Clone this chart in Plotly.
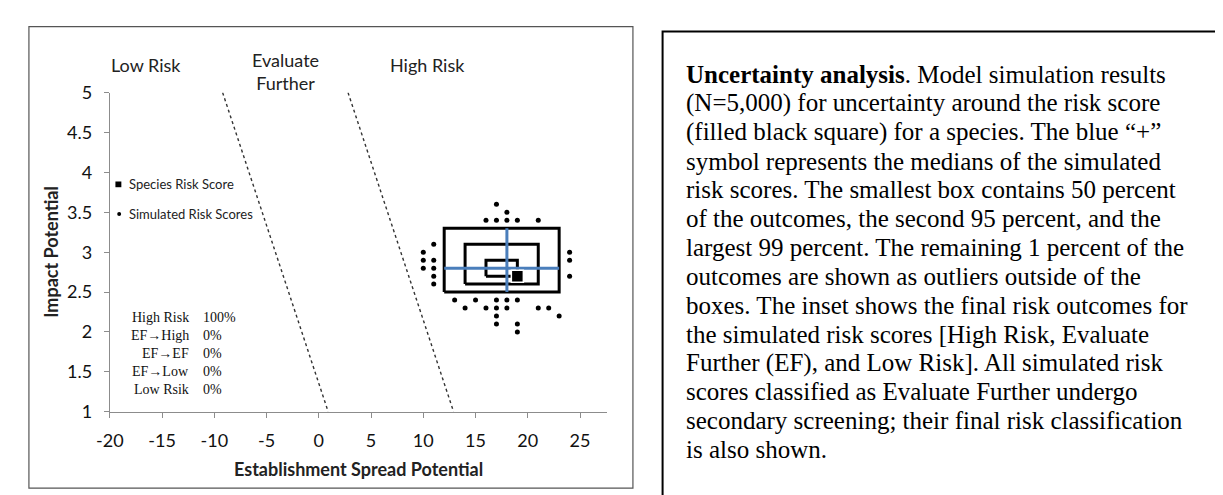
import plotly.graph_objects as go

W, H = 1223, 495

# ---------------- data ----------------
x_ticks = [-20, -15, -10, -5, 0, 5, 10, 15, 20, 25]
y_ticks = [1, 1.5, 2, 2.5, 3, 3.5, 4, 4.5, 5]

outlier_x = [17, 18, 16, 17, 18, 19, 21,
             11, 10, 10, 11, 10, 11, 11, 11,
             24, 24, 24,
             13, 15, 17, 18, 19,
             14, 16, 17, 18, 21, 22,
             17, 23,
             17, 19,
             19]
outlier_y = [3.6, 3.5, 3.4, 3.4, 3.4, 3.4, 3.4,
             3.1, 3.0, 2.9, 2.9, 2.8, 2.8, 2.7, 2.6,
             3.0, 2.9, 2.7,
             2.4, 2.4, 2.4, 2.4, 2.4,
             2.3, 2.3, 2.3, 2.3, 2.3, 2.3,
             2.2, 2.2,
             2.1, 2.1,
             2.0]

# boxes: 50%, 95%, 99%
box_x_lo = [16, 14, 12]
box_x_hi = [19, 21, 23]
box_y_lo = [2.7, 2.6, 2.5]
box_y_hi = [2.9, 3.1, 3.3]

median_x = 18
median_y = 2.8

score_x = 19
score_y = 2.7

# dashed classification thresholds (x at top y=5, x at bottom y=1)
thr_top_x = [-9.2, 2.8]
thr_bot_x = [0.9, 12.9]
thr_y = [5, 1]

region_labels = ["Low Risk", "Evaluate<br>Further", "High Risk"]

inset_labels = ["High Risk", "EF\u2192High", "EF\u2192EF", "EF\u2192Low", "Low Rsik"]
inset_values = ["100%", "0%", "0%", "0%", "0%"]

legend_labels = ["Species Risk Score", "Simulated Risk Scores"]

caption_lines = [
    "<b>Uncertainty analysis</b>. Model simulation results",
    "(N=5,000) for uncertainty around the risk score",
    "(filled black square) for a species. The blue \u201c+\u201d",
    "symbol represents the medians of the simulated",
    "risk scores. The smallest box contains 50 percent",
    "of the outcomes, the second 95 percent, and the",
    "largest 99 percent. The remaining 1 percent of the",
    "outcomes are shown as outliers outside of the",
    "boxes. The inset shows the final risk outcomes for",
    "the simulated risk scores [High Risk, Evaluate",
    "Further (EF), and Low Risk]. All simulated risk",
    "scores classified as Evaluate Further undergo",
    "secondary screening; their final risk classification",
    "is also shown.",
]

# ---------------- helpers (pixel -> paper) ----------------
def px(x):
    return x / W

def py(y):
    return 1 - y / H

PLOT_L, PLOT_R, PLOT_T, PLOT_B = 88.8, 592, 76, 410
CHART_FONT = "Lato, 'Open Sans', sans-serif"
SERIF = "'Liberation Serif', 'Times New Roman', serif"

fig = go.Figure()

# threshold dashed lines
for xt, xb in zip(thr_top_x, thr_bot_x):
    fig.add_trace(go.Scatter(x=[xt, xb], y=thr_y, mode="lines",
                             line=dict(color="#333333", width=1.4, dash="3px,3px"),
                             hoverinfo="skip", showlegend=False))

# outliers
fig.add_trace(go.Scatter(x=outlier_x, y=outlier_y, mode="markers",
                         marker=dict(color="black", size=5),
                         name="Simulated Risk Scores", showlegend=False))

# boxes
for xl, xh, yl, yh in zip(box_x_lo, box_x_hi, box_y_lo, box_y_hi):
    fig.add_trace(go.Scatter(x=[xl, xh, xh, xl, xl], y=[yl, yl, yh, yh, yl],
                             mode="lines", line=dict(color="black", width=3),
                             hoverinfo="skip", showlegend=False))

# median cross spanning the 99% range
fig.add_trace(go.Scatter(
    x=[box_x_lo[2], box_x_hi[2], None, median_x, median_x],
    y=[median_y, median_y, None, box_y_lo[2], box_y_hi[2]],
    mode="lines", line=dict(color="#4a7ebb", width=3),
    hoverinfo="skip", showlegend=False))

# species risk score
fig.add_trace(go.Scatter(x=[score_x], y=[score_y], mode="markers",
                         marker=dict(symbol="square", color="black", size=12,
                                     line=dict(color="white", width=1.5)),
                         name="Species Risk Score", showlegend=False))

annotations = []
shapes = []

# panel borders
shapes.append(dict(type="rect", xref="paper", yref="paper",
                   x0=px(7), x1=px(618), y0=py(490), y1=py(7),
                   line=dict(color="#555555", width=1.2)))
shapes.append(dict(type="rect", xref="paper", yref="paper",
                   x0=px(648), x1=px(1235), y0=py(505), y1=py(12),
                   line=dict(color="black", width=2)))

# region labels
for lab, cx, cy in zip(region_labels, [125, 267, 410], [47, 53.5, 47]):
    annotations.append(dict(text=lab, x=px(cx), y=py(cy), xref="paper", yref="paper",
                            showarrow=False, xanchor="center", yanchor="middle",
                            font=dict(family=CHART_FONT, size=18, color="#222222")))

# legend (manual)
shapes.append(dict(type="rect", xref="paper", yref="paper",
                   x0=px(94.5), x1=px(100.5), y0=py(175), y1=py(169),
                   fillcolor="black", line=dict(width=0)))
shapes.append(dict(type="circle", xref="paper", yref="paper",
                   x0=px(96.3), x1=px(100.3), y0=py(205), y1=py(201),
                   fillcolor="black", line=dict(width=0)))
for lab, cy in zip(legend_labels, [172, 203]):
    annotations.append(dict(text=lab, x=px(106), y=py(cy), xref="paper", yref="paper",
                            showarrow=False, xanchor="left", yanchor="middle",
                            font=dict(family=CHART_FONT, size=13, color="#222222")))

# inset table
for i, (lab, val) in enumerate(zip(inset_labels, inset_values)):
    cy = 311.5 + i * 18.8
    annotations.append(dict(text=lab, x=px(171), y=py(cy), xref="paper", yref="paper",
                            showarrow=False, xanchor="right", yanchor="middle",
                            font=dict(family=SERIF, size=14, color="#111111")))
    annotations.append(dict(text=val, x=px(181), y=py(cy), xref="paper", yref="paper",
                            showarrow=False, xanchor="left", yanchor="middle",
                            font=dict(family=SERIF, size=14, color="#111111")))

# axis titles
annotations.append(dict(text="<b>Establishment Spread Potential</b>",
                        x=px((PLOT_L + PLOT_R) / 2), y=py(470), xref="paper", yref="paper",
                        showarrow=False, xanchor="center", yanchor="middle",
                        font=dict(family=CHART_FONT, size=18, color="#222222")))
annotations.append(dict(text="<b>Impact Potential</b>", textangle=-90,
                        x=px(30), y=py((PLOT_T + PLOT_B) / 2), xref="paper", yref="paper",
                        showarrow=False, xanchor="center", yanchor="middle",
                        font=dict(family=CHART_FONT, size=18, color="#222222")))

# caption
for i, line in enumerate(caption_lines):
    cy = 57 + i * 30.2
    annotations.append(dict(text=line, x=px(670), y=py(cy), xref="paper", yref="paper",
                            showarrow=False, xanchor="left", yanchor="middle",
                            font=dict(family=SERIF, size=25, color="black")))

axis_common = dict(showgrid=False, zeroline=False, showline=True,
                   linecolor="#8c8c8c", linewidth=1, ticks="outside",
                   ticklen=5, tickcolor="#8c8c8c", mirror=False,
                   tickfont=dict(family=CHART_FONT, size=18, color="#111111"))

fig.update_layout(
    width=W, height=H,
    margin=dict(l=0, r=0, t=0, b=0, pad=0),
    paper_bgcolor="white", plot_bgcolor="white",
    showlegend=False,
    xaxis=dict(range=[-20, 27.6], tickvals=x_ticks, ticktext=[str(v) for v in x_ticks],
               domain=[px(PLOT_L), px(PLOT_R)], ticklabelstandoff=8, **axis_common),
    yaxis=dict(range=[1, 5], tickvals=y_ticks, ticktext=[f"{v:g}" for v in y_ticks],
               domain=[py(PLOT_B), py(PLOT_T)], ticklabelstandoff=8, **axis_common),
    annotations=annotations,
    shapes=shapes,
)

fig.write_html("out.html", config={"displayModeBar": False})
